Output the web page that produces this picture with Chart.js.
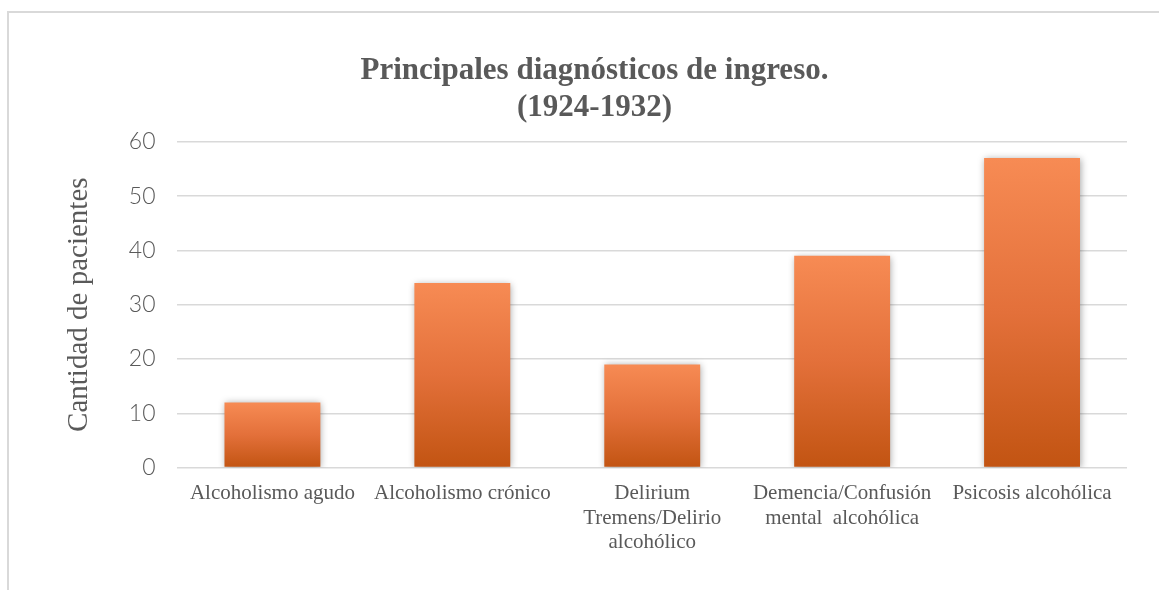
<!DOCTYPE html>
<html lang="es">
<head>
<meta charset="utf-8">
<title>Principales diagnósticos de ingreso</title>
<script src="https://cdn.jsdelivr.net/npm/chart.js@4/dist/chart.umd.min.js"></script>
<style>
  html, body { margin: 0; padding: 0; background: #fff; overflow: hidden; }
  #frame {
    position: absolute; left: 7px; top: 11px; width: 1300px; height: 700px;
    border-top: 2px solid #d9d9d9; border-left: 2px solid #d9d9d9;
  }
  #wrap { position: absolute; left: 0; top: 0; width: 1159px; height: 590px; }
</style>
</head>
<body>
<div id="frame"></div>
<div id="wrap"><canvas id="chart"></canvas></div>
<script>
// values
const titleLines = ["Principales diagnósticos de ingreso.", "(1924-1932)"]
const yAxisLabel = "Cantidad de pacientes"
const categories = [
  "Alcoholismo agudo",
  "Alcoholismo crónico",
  ["Delirium", "Tremens/Delirio", "alcohólico"],
  ["Demencia/Confusión", "mental  alcohólica"],
  "Psicosis alcohólica"
]
const patients = [12, 34, 19, 39, 57]
const yTicks = { min: 0, max: 60, step: 10 }

const textColor = "#595959"
const gridColor = "#d9d9d9"

// per-bar vertical gradient, light orange on top to dark orange at base
function barGradient(ctx) {
  const chart = ctx.chart
  const { chartArea } = chart
  if (!chartArea || ctx.raw == null) return "#e8743e"
  const y = chart.scales.y
  const top = y.getPixelForValue(ctx.raw)
  const base = y.getPixelForValue(0)
  const g = chart.ctx.createLinearGradient(0, top, 0, base)
  g.addColorStop(0, "#f78b54")
  g.addColorStop(0.5, "#e3703a")
  g.addColorStop(1, "#c25412")
  return g
}

// soft shadow around the bars
const barShadow = {
  id: "barShadow",
  beforeDatasetsDraw(chart) {
    const c = chart.ctx
    c.save()
    c.shadowColor = "rgba(0,0,0,0.35)"
    c.shadowBlur = 7
    c.shadowOffsetX = 1
    c.shadowOffsetY = 1
  },
  afterDatasetsDraw(chart) {
    chart.ctx.restore()
  }
}

new Chart(document.getElementById("chart").getContext("2d"), {
  type: "bar",
  data: {
    labels: categories,
    datasets: [{
      label: yAxisLabel,
      data: patients,
      backgroundColor: barGradient,
      borderWidth: 0,
      categoryPercentage: 1,
      barPercentage: 0.505
    }]
  },
  options: {
    responsive: true,
    maintainAspectRatio: false,
    animation: false,
    layout: { padding: { left: 62, right: 32, top: 0, bottom: 21 } },
    plugins: {
      legend: { display: false },
      tooltip: { enabled: false },
      title: {
        display: true,
        text: titleLines,
        color: textColor,
        font: { family: "'Liberation Serif', 'Times New Roman', serif", size: 31, weight: "bold", lineHeight: 1.19 },
        padding: { top: 53, bottom: 15 }
      }
    },
    scales: {
      x: {
        grid: { display: false, drawTicks: false },
        border: { display: false },
        ticks: {
          color: textColor,
          padding: 14,
          maxRotation: 0,
          autoSkip: false,
          font: { family: "'Liberation Serif', 'Times New Roman', serif", size: 21, lineHeight: 1.165 }
        }
      },
      y: {
        min: yTicks.min,
        max: yTicks.max,
        grid: { color: gridColor, lineWidth: 1.5, drawTicks: false },
        border: { display: false },
        ticks: {
          stepSize: yTicks.step,
          color: textColor,
          padding: 22,
          font: { family: "Lato, 'DejaVu Sans', sans-serif", size: 23, weight: 300 }
        },
        title: {
          display: true,
          text: yAxisLabel,
          color: textColor,
          font: { family: "'Liberation Serif', 'Times New Roman', serif", size: 29, lineHeight: 1.2 },
          padding: { top: 0, bottom: 10 }
        }
      }
    }
  },
  plugins: [barShadow]
})
</script>
</body>
</html>
